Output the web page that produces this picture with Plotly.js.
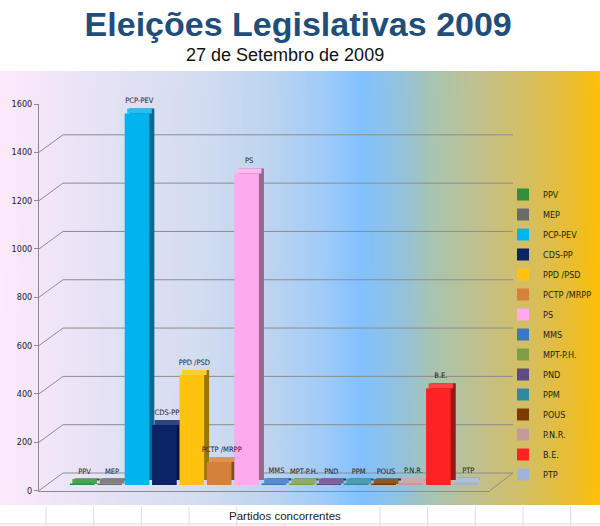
<!DOCTYPE html>
<html>
<head>
<meta charset="utf-8">
<script src="https://cdn.plot.ly/plotly-3.0.1.min.js"></script>
<style>
  html, body { margin: 0; padding: 0; background: white; }
  #chart { width: 600px; height: 526px; }
</style>
</head>
<body>
<div id="chart"></div>
<script>
// votes per party
const parties = ['PPV', 'MEP', 'PCP-PEV', 'CDS-PP', 'PPD /PSD', 'PCTP /MRPP', 'PS', 'MMS',
                 'MPT-P.H.', 'PND', 'PPM', 'POUS', 'P.N.R.', 'B.E.', 'PTP'];
const votes = [4, 6, 1538, 248, 455, 95, 1290, 7, 5, 6, 5, 4, 8, 401, 9];
const yTickValues = [0, 200, 400, 600, 800, 1000, 1200, 1400, 1600];
const partyColors = ['#2f8f3a', '#6a6a6a', '#00b4f0', '#0a2466', '#ffc20e', '#d4813a', '#fdaaee', '#3a78c4',
                     '#7f9d46', '#5f4a85', '#2f8aa0', '#7a3c00', '#c49a9a', '#ff2222', '#a0b2d6'];

// page geometry (pixels), used to place the fake 3D box
const W = 600, H = 526;
const px2x = p => p / W;
const px2y = p => (H - p) / H;
const FRONT_ZERO = 490.5, FRONT_TOP = 104;          // front axis: 0 and 1600
const SCALE = (FRONT_ZERO - FRONT_TOP) / 1600;      // px per vote
const BACK_ZERO = 473, BAR_ZERO = 485;
const DEPTH_UNITS = (FRONT_ZERO - BACK_ZERO) / SCALE;
const BW = 0.9;                 // bar width in category units
const DX = 5 / 27.4;            // 3D shift in category units
const DY = 5 / SCALE;           // 3D shift in vote units

function yDomain(zeroPx, lo, hi) {
  return [px2y(zeroPx - lo * SCALE), px2y(zeroPx - hi * SCALE)];
}

function mix(hex, target, f) {
  const n = parseInt(hex.slice(1), 16);
  const c = [(n >> 16) & 255, (n >> 8) & 255, n & 255].map(v => Math.round(v + (target - v) * f));
  return 'rgb(' + c.join(',') + ')';
}

function gradientURL() {
  const c = document.createElement('canvas');
  c.width = 600; c.height = 10;
  const ctx = c.getContext('2d');
  const g = ctx.createLinearGradient(0, 0, 600, 0);
  g.addColorStop(0.00, '#fde9fc');
  g.addColorStop(0.19, '#e3e1f4');
  g.addColorStop(0.32, '#d5ddf1');
  g.addColorStop(0.45, '#bdd4ef');
  g.addColorStop(0.54, '#a0cbf8');
  g.addColorStop(0.60, '#82c1ff');
  g.addColorStop(0.67, '#93c2dc');
  g.addColorStop(0.72, '#a8c4b2');
  g.addColorStop(0.80, '#c2c08c');
  g.addColorStop(0.89, '#d8be5a');
  g.addColorStop(0.96, '#ecbd2c');
  g.addColorStop(1.00, '#ffc000');
  ctx.fillStyle = g;
  ctx.fillRect(0, 0, 600, 10);
  return c.toDataURL();
}

const labelFont = { family: 'DejaVu Sans Condensed, DejaVu Sans, sans-serif', size: 7.5, color: '#222' };

const sides = parties.map((p, i) => ({
  type: 'bar', x: [p], y: [votes[i]], base: DY,
  width: BW, offset: -BW / 2 + DX,
  marker: { color: mix(partyColors[i], 0, 0.4) },
  showlegend: false, hoverinfo: 'skip'
}));
const tops = parties.map((p, i) => ({
  type: 'bar', x: [p], y: [DY], base: votes[i],
  width: BW, offset: -BW / 2 + DX / 2,
  marker: { color: mix(partyColors[i], 255, 0.15) },
  showlegend: false, hoverinfo: 'skip'
}));
const fronts = parties.map((p, i) => ({
  type: 'bar', name: p, legendgroup: p, x: [p], y: [votes[i]],
  width: BW, offset: -BW / 2,
  marker: { color: partyColors[i] },
  hovertemplate: p + ': %{y}<extra></extra>'
}));
// party names above the bars, drawn last so no bar covers them
const labels = {
  type: 'bar', x: parties, y: parties.map(() => DY), base: votes,
  width: BW, offset: -BW / 2 + DX / 2,
  marker: { color: 'rgba(0,0,0,0)' },
  text: parties, textposition: 'outside', textfont: labelFont,
  constraintext: 'none', cliponaxis: false,
  showlegend: false, hoverinfo: 'skip'
};

const gridColor = '#8c8c8c';
const shapes = [];
// back wall gridlines
yTickValues.forEach(v => shapes.push({
  type: 'line', layer: 'below', xref: 'paper', yref: 'y2',
  x0: px2x(63), x1: px2x(513), y0: v + DEPTH_UNITS, y1: v + DEPTH_UNITS,
  line: { color: gridColor, width: 1 }
}));
// diagonals from the front axis ticks to the back wall
yTickValues.forEach(v => shapes.push({
  type: 'line', layer: 'below', xref: 'paper', yref: 'y2',
  x0: px2x(39), x1: px2x(63), y0: v, y1: v + DEPTH_UNITS,
  line: { color: gridColor, width: 1 }
}));
shapes.push({
  type: 'line', layer: 'below', xref: 'paper', yref: 'y2',
  x0: px2x(490), x1: px2x(513), y0: 0, y1: DEPTH_UNITS,
  line: { color: gridColor, width: 1 }
});
// spreadsheet cells under the chart
for (let k = 0; k < 12; k++) {
  const xp = 46 + k * 47.7;
  const underText = xp > 240 && xp < 335;
  shapes.push({
    type: 'line', layer: 'below', xref: 'paper', yref: 'paper',
    x0: px2x(xp), x1: px2x(xp), y0: px2y(underText ? 524 : 507), y1: 0,
    line: { color: '#d9dce4', width: 1 }
  });
}
shapes.push({
  type: 'line', layer: 'below', xref: 'paper', yref: 'paper',
  x0: 0, x1: 1, y0: px2y(524), y1: px2y(524),
  line: { color: '#d9dce4', width: 1 }
});

const layout = {
  width: W, height: H,
  margin: { l: 0, r: 0, t: 0, b: 0, pad: 0 },
  paper_bgcolor: 'white',
  plot_bgcolor: 'rgba(0,0,0,0)',
  barmode: 'overlay',
  showlegend: true,
  font: { family: 'Liberation Sans, Arial, sans-serif' },
  title: {
    text: 'Eleições Legislativas 2009',
    x: 0.497, xanchor: 'center', y: 1 - 24 / H, yanchor: 'middle', yref: 'container',
    font: { family: 'Liberation Sans, Arial, sans-serif', size: 34, weight: 'bold', color: '#1f4e7a' }
  },
  annotations: [
    { text: '27 de Setembro de 2009', xref: 'paper', yref: 'paper', x: px2x(285), y: px2y(55),
      xanchor: 'center', yanchor: 'middle', showarrow: false,
      font: { family: 'Liberation Sans, Arial, sans-serif', size: 18, color: '#111' } },
    { text: 'Partidos concorrentes', xref: 'paper', yref: 'paper', x: px2x(285), y: px2y(516),
      xanchor: 'center', yanchor: 'middle', showarrow: false,
      font: { family: 'Liberation Sans Narrow, Liberation Sans, sans-serif', size: 11.5, color: '#222' } }
  ],
  images: [{
    source: gradientURL(), xref: 'paper', yref: 'paper',
    x: 0, y: px2y(71), sizex: 1, sizey: (505 - 71) / H,
    xanchor: 'left', yanchor: 'top', sizing: 'stretch', layer: 'below'
  }],
  // bars
  xaxis: {
    domain: [px2x(68.5), px2x(479.5)], anchor: 'y',
    type: 'category', categoryorder: 'array', categoryarray: parties,
    range: [-0.5, 14.5], showticklabels: false, showgrid: false, zeroline: false, showline: false,
    fixedrange: true
  },
  yaxis: {
    domain: yDomain(BAR_ZERO, 0, 1600), range: [0, 1600], anchor: 'x',
    showticklabels: false, showgrid: false, zeroline: false, fixedrange: true
  },
  // front axis with the tick labels
  xaxis3: {
    domain: [px2x(39), px2x(490)], anchor: 'y2', range: [0, 1],
    showticklabels: false, showgrid: false, zeroline: false,
    showline: true, linecolor: gridColor, linewidth: 1, fixedrange: true
  },
  yaxis2: {
    domain: yDomain(FRONT_ZERO, 0, 1600), range: [0, 1600], anchor: 'x3',
    tickvals: yTickValues, ticks: 'outside', ticklen: 4, tickcolor: gridColor,
    showline: true, linecolor: gridColor, linewidth: 1,
    showgrid: false, zeroline: false, fixedrange: true,
    tickfont: { family: 'DejaVu Sans Condensed, DejaVu Sans, sans-serif', size: 9, color: '#222' }
  },
  legend: {
    x: px2x(503), y: px2y(180), xanchor: 'left', yanchor: 'top',
    bgcolor: 'rgba(0,0,0,0)', borderwidth: 0, tracegroupgap: 1,
    font: { family: 'DejaVu Sans Condensed, DejaVu Sans, sans-serif', size: 9, color: '#222' }
  },
  shapes: shapes
};

Plotly.newPlot('chart', sides.concat(tops, fronts, [labels]), layout, { displayModeBar: false, responsive: false });
</script>
</body>
</html>
